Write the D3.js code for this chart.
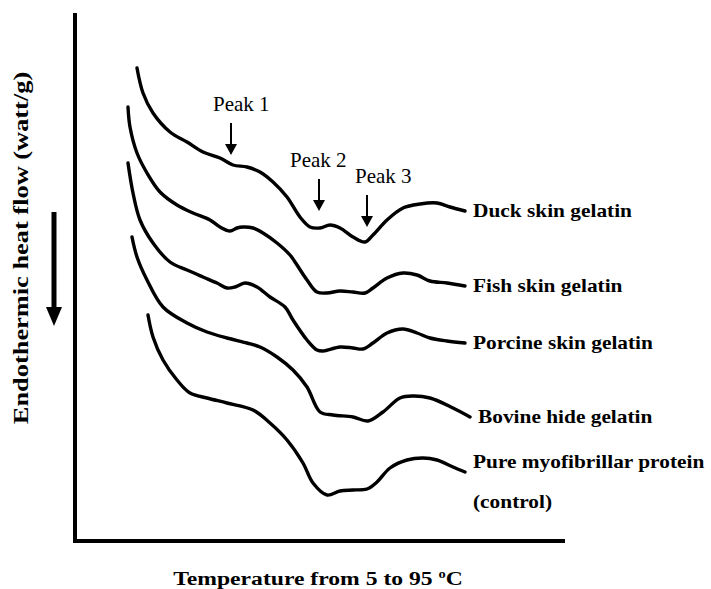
<!DOCTYPE html>
<html>
<head>
<meta charset="utf-8">
<script src="https://cdn.jsdelivr.net/npm/d3@7"></script>
<style>
  body { margin: 0; background: #fff; }
  svg { display: block; }
  .curve { fill: none; stroke: #000; stroke-width: 3.4px; stroke-linecap: round; stroke-linejoin: round; }
  .axis-line { stroke: #000; stroke-width: 4px; }
  text { font-family: "Times New Roman", "Liberation Serif", serif; fill: #000; }
  .lbl { font-weight: bold; font-size: 18.5px; }
  .peak { font-size: 21px; }
</style>
</head>
<body>
<div id="chart"></div>
<script>
// DSC thermograms (temperature in deg C, heat flow in arbitrary units)
var seriesNames = ["Duck skin gelatin", "Fish skin gelatin", "Porcine skin gelatin", "Bovine hide gelatin", "Pure myofibrillar protein|(control)"];

var duckT = [12.8, 14, 16, 19.4, 22.8, 26, 29.4, 32, 34.8, 37.4, 40, 42.8, 45.4, 47.4, 49.4, 51.4, 53.4, 56, 58.4, 60, 62.8, 66, 69.4, 72.8, 75.4, 78.4];
var duckV = [47.3, 44.8, 42.8, 40.9, 39.9, 38.9, 38.3, 37.6, 37.4, 36.9, 35.9, 34.4, 32.4, 31.4, 31.3, 31.6, 31.3, 30.4, 29.9, 30.6, 32.1, 33.3, 33.7, 33.8, 33.4, 33];

var fishT = [11, 11.4, 12.8, 14.8, 17.4, 20.8, 24, 27.4, 29.4, 31.4, 32.8, 34, 36, 38, 40.8, 43.4, 44.4, 46.8, 48.8, 50.8, 53.4, 56, 58.4, 60, 62.8, 66, 68.8, 71.4, 74.8, 78.4];
var fishV = [43.4, 41.4, 38.8, 36.8, 34.9, 33.6, 32.8, 32.1, 31.4, 31, 31.3, 31.4, 31.3, 30.8, 29.8, 28.6, 27.9, 26.1, 24.9, 24.8, 25, 24.9, 24.8, 25.3, 26.3, 26.8, 26.6, 26, 25.8, 25.5];

var porcineT = [11, 12, 13.4, 16, 19.4, 22.8, 26, 28.8, 30.8, 32.4, 34.4, 36.8, 39.4, 42.4, 44, 46.8, 48.8, 50, 53.4, 56, 58, 60, 62.8, 66, 68.8, 71.4, 74.8, 78.4];
var porcineV = [37.8, 34.8, 32.1, 29.8, 27.9, 27.1, 26.4, 25.8, 25.3, 25.4, 25.8, 25.4, 24.4, 23.4, 22.1, 20.1, 19.1, 19, 19.4, 19.3, 19.2, 19.8, 20.8, 21.2, 20.8, 20.3, 20, 19.8];

var bovineT = [11.8, 12.8, 14.8, 18, 22.8, 26.8, 30.8, 34.8, 37.4, 40.8, 44, 46.8, 49.4, 52, 56, 59, 62, 65.4, 68, 71.4, 76, 79.4];
var bovineV = [30.4, 28.4, 26.1, 23.4, 21.8, 20.9, 20.3, 19.8, 19.4, 18.4, 17.1, 15.4, 12.9, 12.6, 12.4, 12, 12.9, 14.3, 14.5, 14.3, 13.3, 12.4];

var pureT = [15, 16, 18, 20.8, 23.4, 26.8, 30.8, 36, 39.4, 42.8, 46, 48, 50.8, 53.4, 56, 58.8, 60.8, 63.4, 66.8, 70, 72.8, 76, 78.4];
var pureV = [22.6, 20.4, 18.1, 16.1, 14.8, 14.3, 13.8, 13.1, 11.8, 10.1, 7.8, 5.8, 4.6, 5, 5.1, 5.2, 5.9, 7.3, 8.1, 8.3, 8.1, 7.4, 6.9];

// peak markers
var peakNames = ["Peak 1", "Peak 2", "Peak 3"];
var peakT = [31.6, 49.2, 58.8];
var peakTipV = [38.6, 33, 31.4];
var peakLabelT = [28, 43.4, 56.4];

var xTitle = "Temperature from 5 to 95 ";
var yTitle = "Endothermic heat flow (watt/g)";

var width = 711, height = 589;

var x = d3.scaleLinear().domain([0, 98.4]).range([73, 565]);
var y = d3.scaleLinear().domain([0, 52.8]).range([541, 13]);

var svg = d3.select("#chart").append("svg")
  .attr("width", width)
  .attr("height", height);

// axes: plain L-frame, no ticks
svg.append("line").attr("class", "axis-line")
  .attr("x1", x.range()[0] + 2).attr("x2", x.range()[0] + 2)
  .attr("y1", y.range()[1]).attr("y2", y.range()[0] + 2);
svg.append("line").attr("class", "axis-line")
  .attr("x1", x.range()[0]).attr("x2", x.range()[1])
  .attr("y1", y.range()[0]).attr("y2", y.range()[0]);

var series = [
  {name: seriesNames[0], t: duckT, v: duckV},
  {name: seriesNames[1], t: fishT, v: fishV},
  {name: seriesNames[2], t: porcineT, v: porcineV},
  {name: seriesNames[3], t: bovineT, v: bovineV},
  {name: seriesNames[4], t: pureT, v: pureV}
];

var line = d3.line()
  .x(function(d) { return x(d[0]); })
  .y(function(d) { return y(d[1]); })
  .curve(d3.curveCatmullRom.alpha(0.5));

series.forEach(function(s) {
  var pts = d3.zip(s.t, s.v);
  svg.append("path").attr("class", "curve").attr("d", line(pts));

  var last = pts[pts.length - 1];
  var parts = s.name.split("|");
  var lx = x(last[0]) + 8;
  var ly = y(last[1]) + 6 - (parts.length - 1) * 10;
  parts.forEach(function(p, i) {
    svg.append("text").attr("class", "lbl")
      .attr("transform", "translate(" + lx + "," + (ly + i * 40) + ") scale(1.155,1)")
      .text(p);
  });
});

// peak arrows
peakNames.forEach(function(name, i) {
  var px = x(peakT[i]), tip = y(peakTipV[i]);
  svg.append("line")
    .attr("x1", px).attr("x2", px)
    .attr("y1", tip - 32).attr("y2", tip - 8)
    .attr("stroke", "#000").attr("stroke-width", 2);
  svg.append("path")
    .attr("d", "M" + (px - 6) + "," + (tip - 11) + "L" + (px + 6) + "," + (tip - 11) + "L" + px + "," + tip + "Z")
    .attr("fill", "#000");
  svg.append("text").attr("class", "peak")
    .attr("x", x(peakLabelT[i]))
    .attr("y", tip - 44)
    .text(name);
});

// x title
var xt = svg.append("text").attr("class", "lbl")
  .attr("text-anchor", "middle")
  .attr("transform", "translate(318,585) scale(1.2,1)")
  .style("font-size", "19.7px");
xt.append("tspan").text(xTitle);
xt.append("tspan").attr("dy", -7).style("font-size", "12px").text("o");
xt.append("tspan").attr("dy", 7).text("C");

// y title
svg.append("text").attr("class", "lbl")
  .attr("text-anchor", "middle")
  .attr("transform", "translate(28,248) rotate(-90) scale(1.2,1)")
  .style("font-size", "22px")
  .text(yTitle);

// direction arrow (endothermic down)
svg.append("line")
  .attr("x1", 54).attr("x2", 54)
  .attr("y1", 212).attr("y2", 310)
  .attr("stroke", "#000").attr("stroke-width", 5);
svg.append("path")
  .attr("d", "M46,307L62,307L54,326Z")
  .attr("fill", "#000");
</script>
</body>
</html>
